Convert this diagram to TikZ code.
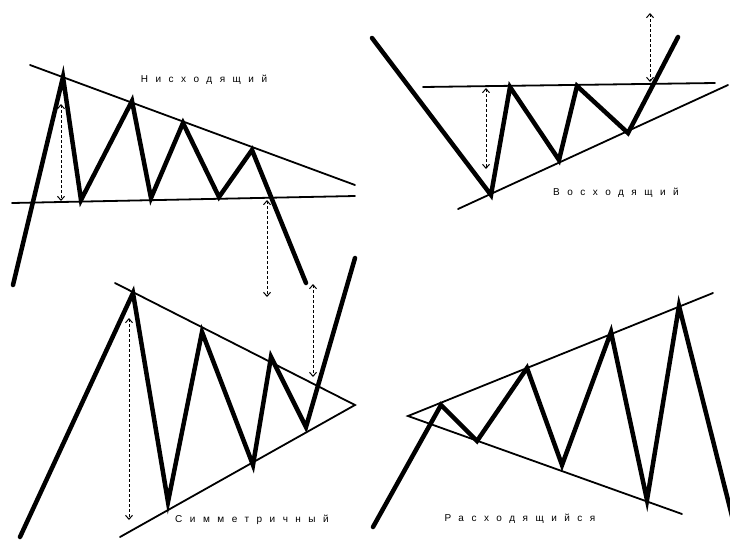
\documentclass[tikz,border=0pt]{standalone}
\usepackage{fontspec}
\newfontfamily\spacedsans[LetterSpace=75]{Liberation Sans}
\usetikzlibrary{arrows.meta}

\begin{document}
\begin{tikzpicture}[
  x=1pt, y=-1pt,
  trend/.style={line width=4.5pt, line cap=round, line join=miter},
  bound/.style={line width=1.8pt, line cap=round},
  target/.style={line width=1pt, dash pattern=on 3pt off 2pt,
    {Straight Barb[length=4pt, width=7pt]}-{Straight Barb[length=4pt, width=7pt]}},
  caption/.style={font=\spacedsans\fontsize{10}{12}\selectfont, inner sep=0pt}
]
  \useasboundingbox (0,0) rectangle (730,539);

  %% PANEL 1 — descending
  \draw[bound] (30,65) -- (355,185);
  \draw[bound] (12,203) -- (355,196);
  \draw[trend] (13,285) -- (63,77) -- (81,200) -- (132,101) -- (151,198)
    -- (183,123) -- (219,197) -- (252,150) -- (306,283);
  \draw[target] (61,104) -- (61,201);
  \draw[target] (267,200) -- (267,297);
  \node[caption] (desc) at (204,80) {Нисходящий};

  %% PANEL 2 — ascending
  \draw[bound] (423,87) -- (715,83);
  \draw[bound] (458,209) -- (728,85);
  \draw[trend] (372,38) -- (491,195) -- (510,87) -- (559,160) -- (577,86)
    -- (628,133) -- (678,37);
  \draw[target] (486,88) -- (486,169);
  \draw[target] (650,13) -- (650,82);
  \node[caption] (asc) at (616,193) {Восходящий};

  %% PANEL 3 — symmetric
  \draw[bound] (115,283) -- (355,405) -- (120,537);
  \draw[trend] (20,537) -- (133,293) -- (168,502) -- (202,332) -- (253,465)
    -- (271,357) -- (306,427) -- (355,258);
  \draw[target] (129,318) -- (129,520);
  \draw[target] (313,284) -- (313,377);
  \node[caption] (sym) at (252,520) {Симметричный};

  %% PANEL 4 — broadening
  \draw[bound] (713,293) -- (408,416) -- (682,514);
  \draw[trend] (373,527) -- (441,405) -- (477,441) -- (527,368) -- (562,465)
    -- (611,332) -- (647,500) -- (679,306) -- (733,520);
  \node[caption] (brd) at (520,519) {Расходящийся};

\end{tikzpicture}
\end{document}
